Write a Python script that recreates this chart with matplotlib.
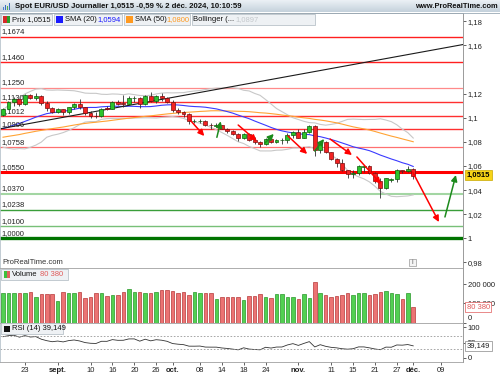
import numpy as np
import pandas as pd
import matplotlib
matplotlib.use('Agg')
import matplotlib.pyplot as plt
from matplotlib.patches import Rectangle
from matplotlib.colors import LinearSegmentedColormap

plt.rcParams['font.family'] = ['Liberation Sans', 'DejaVu Sans']
plt.rcParams['font.size'] = 5.5

# daily EUR/USD bars, 19 aug -> 2 dec 2024 (trading days only)
opens = [1.1027, 1.1077, 1.1130, 1.1152, 1.1113, 1.1193, 1.1161, 1.1182, 1.1119, 1.1078,
         1.1047, 1.1070, 1.1045, 1.1089, 1.1112, 1.1086, 1.1039, 1.1017, 1.1011, 1.1076,
         1.1075, 1.1133, 1.1125, 1.1117, 1.1163, 1.1164, 1.1112, 1.1178, 1.1136, 1.1177,
         1.1164, 1.1135, 1.1068, 1.1046, 1.1031, 1.0972, 1.0974, 1.0977, 1.0940, 1.0934,
         1.0937, 1.0908, 1.0890, 1.0863, 1.0833, 1.0867, 1.0816, 1.0797, 1.0782, 1.0827,
         1.0797, 1.0816, 1.0817, 1.0856, 1.0884, 1.0834, 1.0880, 1.0929, 1.0729, 1.0802,
         1.0717, 1.0656, 1.0623, 1.0563, 1.0530, 1.0543, 1.0594, 1.0597, 1.0544, 1.0472,
         1.0418, 1.0480, 1.0490, 1.0566, 1.0556, 1.0577]
highs = [1.1085, 1.1137, 1.1174, 1.1160, 1.1201, 1.1201, 1.1202, 1.1186, 1.1140, 1.1088,
         1.1080, 1.1075, 1.1092, 1.1120, 1.1155, 1.1090, 1.1055, 1.1050, 1.1080, 1.1100,
         1.1137, 1.1145, 1.1190, 1.1180, 1.1180, 1.1170, 1.1190, 1.1214, 1.1190, 1.1209,
         1.1175, 1.1150, 1.1080, 1.1060, 1.1040, 1.0990, 1.0990, 1.0985, 1.0956, 1.0955,
         1.0940, 1.0915, 1.0900, 1.0870, 1.0875, 1.0870, 1.0840, 1.0810, 1.0836, 1.0848,
         1.0822, 1.0830, 1.0870, 1.0890, 1.0905, 1.0905, 1.0937, 1.0937, 1.0810, 1.0805,
         1.0720, 1.0665, 1.0655, 1.0570, 1.0570, 1.0608, 1.0610, 1.0610, 1.0550, 1.0497,
         1.0500, 1.0500, 1.0575, 1.0570, 1.0596, 1.0585]
lows = [1.1015, 1.1070, 1.1100, 1.1100, 1.1105, 1.1155, 1.1145, 1.1104, 1.1056, 1.1037,
        1.1040, 1.1026, 1.1035, 1.1073, 1.1077, 1.1025, 1.1002, 1.1001, 1.1003, 1.1068,
        1.1070, 1.1110, 1.1087, 1.1110, 1.1130, 1.1081, 1.1108, 1.1131, 1.1126, 1.1142,
        1.1120, 1.1045, 1.1030, 1.1005, 1.0951, 1.0955, 1.0955, 1.0935, 1.0905, 1.0925,
        1.0905, 1.0875, 1.0855, 1.0811, 1.0828, 1.0806, 1.0780, 1.0761, 1.0778, 1.0790,
        1.0790, 1.0780, 1.0795, 1.0835, 1.0832, 1.0830, 1.0872, 1.0683, 1.0710, 1.0710,
        1.0650, 1.0595, 1.0558, 1.0497, 1.0500, 1.0525, 1.0550, 1.0530, 1.0460, 1.0335,
        1.0410, 1.0470, 1.0470, 1.0540, 1.0550, 1.0495]
closes = [1.1077, 1.1130, 1.1152, 1.1113, 1.1193, 1.1161, 1.1182, 1.1119, 1.1078, 1.1047,
          1.1070, 1.1045, 1.1089, 1.1112, 1.1086, 1.1039, 1.1017, 1.1011, 1.1076, 1.1075,
          1.1133, 1.1115, 1.1117, 1.1163, 1.1164, 1.1112, 1.1178, 1.1136, 1.1177, 1.1164,
          1.1135, 1.1068, 1.1046, 1.1031, 1.0975, 1.0974, 1.0977, 1.0940, 1.0937, 1.0937,
          1.0908, 1.0890, 1.0863, 1.0833, 1.0867, 1.0816, 1.0797, 1.0782, 1.0827, 1.0797,
          1.0816, 1.0817, 1.0856, 1.0884, 1.0834, 1.0880, 1.0929, 1.0729, 1.0802, 1.0717,
          1.0656, 1.0623, 1.0563, 1.0530, 1.0543, 1.0598, 1.0597, 1.0544, 1.0472, 1.0418,
          1.0497, 1.0490, 1.0566, 1.0556, 1.0577, 1.0515]
volumes = [154000, 154000, 154000, 154000, 154000, 162000, 136000, 152000, 152000, 148000,
           115000, 162000, 157000, 154000, 162000, 127000, 136000, 157000, 154000, 139000,
           145000, 145000, 162000, 176000, 160000, 160000, 154000, 154000, 160000, 171000,
           171000, 166000, 154000, 160000, 145000, 160000, 154000, 154000, 154000, 124000,
           136000, 132000, 132000, 132000, 118000, 141000, 139000, 148000, 136000, 127000,
           148000, 148000, 136000, 136000, 122000, 148000, 131000, 211000, 154000, 143000,
           132000, 141000, 143000, 157000, 143000, 154000, 157000, 143000, 152000, 159000,
           167000, 157000, 152000, 124000, 157000, 80380]
# closes before 19 aug, only used to warm up the indicators
prior_close = [1.0765, 1.0741, 1.0806, 1.0740, 1.0703, 1.0736, 1.0740, 1.0746, 1.0704, 1.0692,
               1.0733, 1.0715, 1.0682, 1.0703, 1.0713, 1.0740, 1.0743, 1.0789, 1.0812, 1.0840,
               1.0826, 1.0814, 1.0830, 1.0867, 1.0907, 1.0894, 1.0901, 1.0938, 1.0899, 1.0884,
               1.0892, 1.0848, 1.0843, 1.0848, 1.0856, 1.0821, 1.0815, 1.0826, 1.0789, 1.0910,
               1.0955, 1.0932, 1.0923, 1.0919, 1.0917, 1.0932, 1.0993, 1.1013, 1.0967, 1.1028]

tick_pos = [4, 10, 16, 20, 24, 28, 31, 36, 40, 44, 48, 54, 60, 64, 68, 72, 75, 80]
tick_lab = ['23', 'sept.', '10', '16', '20', '26', 'oct.', '08', '14', '18', '24', 'nov.',
            '11', '15', '21', '27', 'déc.', '09']
month_lab = ['sept.', 'oct.', 'nov.', 'déc.']

level_price = [1.1674, 1.1460, 1.1250, 1.1130, 1.1012, 1.0906, 1.0758, 1.0550,
               1.0370, 1.0238, 1.0100, 1.0000]
level_text = ['1,1674', '1,1460', '1,1250', '1,1130', '1,1012', '1,0906', '1,0758', '1,0550',
              '1,0370', '1,0238', '1,0100', '1,0000']
level_color = ['#ff2020', '#ff2020', '#ff8a8a', '#ff3030', '#ff3030', '#ff3030', '#ff7070',
               '#ff0000', '#a3d6a3', '#3a9e3a', '#78c078', '#007400']
level_lw = [1.0, 1.0, 0.9, 1.0, 1.0, 1.0, 0.9, 2.2, 1.5, 1.0, 1.0, 2.4]

trend_x = [-0.6, 84.1]
trend_y = [1.0908, 1.1608]

arrow_x0 = [34.2, 39.1, 43.0, 47.9, 52.1, 57.0, 59.8, 64.7, 74.9, 80.8]
arrow_y0 = [1.0982, 1.0838, 1.0940, 1.0791, 1.0849, 1.0724, 1.0824, 1.0675, 1.0550, 1.0177]
arrow_x1 = [36.8, 39.8, 46.4, 49.5, 55.6, 58.7, 63.8, 69.1, 79.7, 82.8]
arrow_y1 = [1.0849, 1.0971, 1.0807, 1.0866, 1.0700, 1.0824, 1.0691, 1.0451, 1.0135, 1.0525]
arrow_col = ['#ff0000', '#1c8a1c', '#ff0000', '#1c8a1c', '#ff0000', '#1c8a1c', '#ff0000',
             '#ff0000', '#ff0000', '#1c8a1c']

price_ticks = [1.18, 1.16, 1.12, 1.10, 1.08, 1.06, 1.04, 1.02, 1.00, 0.98]
price_tick_lab = ['1,18', '1,16', '1,12', '1,1', '1,08', '1,06', '1,04', '1,02', '1', '0,98']

# indicators
allc = pd.Series(prior_close + closes)
n0 = len(prior_close)
sma20 = allc.rolling(20).mean()
sma50 = allc.rolling(50).mean()
sd20 = allc.rolling(20).std(ddof=0)
bb_up = (sma20 + 2 * sd20).values[n0:]
bb_lo = (sma20 - 2 * sd20).values[n0:]
sma20 = sma20.values[n0:]
sma50 = sma50.values[n0:]
d = allc.diff()
gain = d.clip(lower=0).ewm(alpha=1 / 14, adjust=False).mean()
loss = (-d.clip(upper=0)).ewm(alpha=1 / 14, adjust=False).mean()
rsi = (100 - 100 / (1 + gain / loss)).values[n0:]

W, H = 500.0, 375.0
def frac(x0, y0, x1, y1):
  return [x0 / W, 1 - y1 / H, (x1 - x0) / W, (y1 - y0) / H]

fig = plt.figure(figsize=(5, 3.75), dpi=100)
ax = fig.add_axes(frac(0, 13, 463, 268))
axv = fig.add_axes(frac(0, 268, 463, 322.5), sharex=ax)
axr = fig.add_axes(frac(0, 322.5, 463, 362), sharex=ax)

x = np.arange(len(closes))
o = np.array(opens); c = np.array(closes); hi = np.array(highs); lo = np.array(lows)
up = c >= o

# price panel
for p, col, lw, txt in zip(level_price, level_color, level_lw, level_text):
  ax.axhline(p, color=col, lw=lw, zorder=1)
  ax.annotate(txt, xy=(0, p), xycoords=('axes fraction', 'data'), xytext=(1.3, 1.0),
              textcoords='offset points', ha='left', va='bottom', fontsize=5.5, color='#222222')
ax.plot(x, bb_up, color='#c8c8c8', lw=0.8, zorder=2)
ax.plot(x, bb_lo, color='#c8c8c8', lw=0.8, zorder=2)
ax.plot(x, sma50, color='#ffa334', lw=0.8, zorder=2)
ax.plot(x, sma20, color='#3a3aff', lw=0.8, zorder=2)
ax.plot(trend_x, trend_y, color='#1a1a1a', lw=0.8, zorder=2)
ax.vlines(x, lo, hi, color='#303030', lw=0.6, zorder=3)
ax.bar(x, np.maximum(np.abs(c - o), 0.00022), bottom=np.minimum(o, c), width=0.72,
       color=np.where(up, '#2bc42b', '#f22222'), edgecolor=np.where(up, '#0b5e0b', '#7a0c0c'),
       lw=0.5, zorder=4)
for x0, y0, x1, y1, col in zip(arrow_x0, arrow_y0, arrow_x1, arrow_y1, arrow_col):
  ax.annotate('', xy=(x1, y1), xytext=(x0, y0), zorder=6,
              arrowprops=dict(arrowstyle='-|>', color=col, lw=1.1, mutation_scale=9,
                              shrinkA=0, shrinkB=0))
ax.set_xlim(-0.55, 84.1)
ax.set_ylim(0.97535, 1.18697)
ax.yaxis.tick_right()
ax.set_yticks(price_ticks)
ax.set_yticklabels(price_tick_lab)
ax.annotate('1,0515', xy=(1, c[-1]), xycoords=('axes fraction', 'data'), xytext=(2.6, 1),
            textcoords='offset points', ha='left', va='center', fontsize=5.5, fontweight='bold',
            bbox=dict(boxstyle='square,pad=0.2', fc='#f7d417', ec='#c9a800', lw=0.5),
            annotation_clip=False, zorder=8)

# volume panel
axv.bar(x, volumes, width=0.64, color=np.where(up, '#52d052', '#ec7373'),
        edgecolor=np.where(up, '#1a8f1a', '#b02a2a'), lw=0.45)
axv.set_ylim(0, 286800)
axv.yaxis.tick_right()
axv.set_yticks([0, 100000, 200000])
axv.set_yticklabels(['0', '100 000', '200 000'])
axv.get_yticklabels()[0].set_verticalalignment('bottom')
axv.annotate('80 380', xy=(1, volumes[-1]), xycoords=('axes fraction', 'data'), xytext=(2.6, 0),
             textcoords='offset points', ha='left', va='center', fontsize=5.5, color='#e05a5a',
             bbox=dict(boxstyle='square,pad=0.2', fc='white', ec='#e05a5a', lw=0.5),
             annotation_clip=False, zorder=8)

# rsi panel
axr.plot(x, rsi, color='#333333', lw=0.6)
for lvl in [70, 30]:
  axr.axhline(lvl, color='#999999', lw=0.6, ls=(0, (2, 2)))
axr.set_ylim(-14, 116)
axr.yaxis.tick_right()
axr.set_yticks([0, 50, 100])
axr.set_yticklabels(['0', '50', '100'])
axr.annotate('39,149', xy=(1, 39.149), xycoords=('axes fraction', 'data'), xytext=(2.6, 0),
             textcoords='offset points', ha='left', va='center', fontsize=5.5, color='#222222',
             bbox=dict(boxstyle='square,pad=0.2', fc='white', ec='#888888', lw=0.5),
             annotation_clip=False, zorder=8)
axr.set_xticks(tick_pos)
axr.set_xticklabels(tick_lab)
for t in axr.get_xticklabels():
  if t.get_text() in month_lab:
    t.set_fontweight('bold')
axr.tick_params(axis='x', length=2, width=0.5, pad=1.5, labelsize=5.5, colors='#222222')

for a in (ax, axv, axr):
  a.tick_params(axis='y', length=2, width=0.5, pad=1.5, labelsize=5.5, colors='#222222')
  a.spines['left'].set_color('#b8c4cc')
  a.spines['right'].set_color('#8a8a8a')
  a.spines['top'].set_color('#a0a0a0')
  a.spines['bottom'].set_color('#a0a0a0')
  for s in a.spines.values():
    s.set_linewidth(0.6)
for a in (ax, axv):
  a.tick_params(axis='x', bottom=False, labelbottom=False)

# pixel overlay for header, legend boxes and captions
top = fig.add_axes([0, 0, 1, 1], zorder=10)
top.patch.set_alpha(0)
grad = np.linspace(0, 1, 20)[:, None]
top.imshow(grad, extent=(0, W, 12.5, 0), aspect='auto',
           cmap=LinearSegmentedColormap.from_list('hdr', ['#eef3f7', '#c5d2dc']))
top.plot([0, W], [12.5, 12.5], color='#9aaab6', lw=0.6)
for bx, bh, bc in zip([3, 5, 7, 9], [3, 5, 4, 7], ['#4a7fd0', '#3a6fc0', '#4fb04f', '#3a6fc0']):
  top.add_patch(Rectangle((bx, 10 - bh), 1.3, bh, color=bc, lw=0))
top.text(15, 6.6, 'Spot EUR/USD Journalier 1,0515 -0,59 % 2 déc. 2024, 10:10:59',
         fontsize=5.6, fontweight='bold', va='center', ha='left', color='#111111')
top.text(498, 6.6, 'www.ProRealTime.com', fontsize=5.4, fontweight='bold', va='center',
         ha='right', color='#111111')

for bx, bw in zip([0, 53, 123, 191], [52, 69, 67, 124]):
  top.add_patch(Rectangle((bx + 0.5, 13.8), bw - 1, 10.8, fc='#eef1f4', ec='#aeb8c0', lw=0.5))
top.add_patch(Rectangle((3, 16), 3.5, 6.5, color='#d42a2a', lw=0))
top.add_patch(Rectangle((6.5, 16), 3.5, 6.5, color='#2aa02a', lw=0))
top.text(12, 19.4, 'Prix 1,0515', va='center', fontsize=5.5, color='#111111')
top.add_patch(Rectangle((56, 16), 6.5, 6.5, color='#1a1aff', lw=0))
top.text(65, 19.4, 'SMA (20)', va='center', fontsize=5.5, color='#111111')
top.text(97, 19.4, '1,0594', va='center', fontsize=5.5, color='#1a1aff')
top.add_patch(Rectangle((126, 16), 6.5, 6.5, color='#ff9a20', lw=0))
top.text(135, 19.4, 'SMA (50)', va='center', fontsize=5.5, color='#111111')
top.text(166, 19.4, '1,0800', va='center', fontsize=5.5, color='#ff9a20')
top.text(193, 19.4, 'Bollinger (...', va='center', fontsize=5.5, color='#111111')
top.text(235, 19.4, '1,0897', va='center', fontsize=5.5, color='#c4c8cc')

top.text(2, 262.5, 'ProRealTime.com', va='center', fontsize=5.5, color='#333333')
top.add_patch(Rectangle((408.5, 258.5), 7, 7, fc='#f4f4f4', ec='#9a9a9a', lw=0.5))
top.text(412, 262.2, 'i', va='center', ha='center', fontsize=5, color='#666666')

top.add_patch(Rectangle((1, 269), 67, 10.5, fc='#eef1f4', ec='#aeb8c0', lw=0.5))
top.add_patch(Rectangle((4, 271), 3, 6.5, color='#3cc03c', lw=0))
top.add_patch(Rectangle((7, 271), 3, 6.5, color='#e06060', lw=0))
top.text(12, 274.3, 'Volume', va='center', fontsize=5.5, color='#111111')
top.text(40, 274.3, '80 380', va='center', fontsize=5.5, color='#e05a5a')

top.add_patch(Rectangle((1, 323.3), 62, 10.5, fc='#eef1f4', ec='#aeb8c0', lw=0.5))
top.add_patch(Rectangle((4, 325.5), 6, 6, color='#111111', lw=0))
top.text(12, 328.6, 'RSI (14) 39,149', va='center', fontsize=5.5, color='#111111')

top.set_xlim(0, W)
top.set_ylim(H, 0)
top.axis('off')

fig.savefig('out.png', dpi=100)
